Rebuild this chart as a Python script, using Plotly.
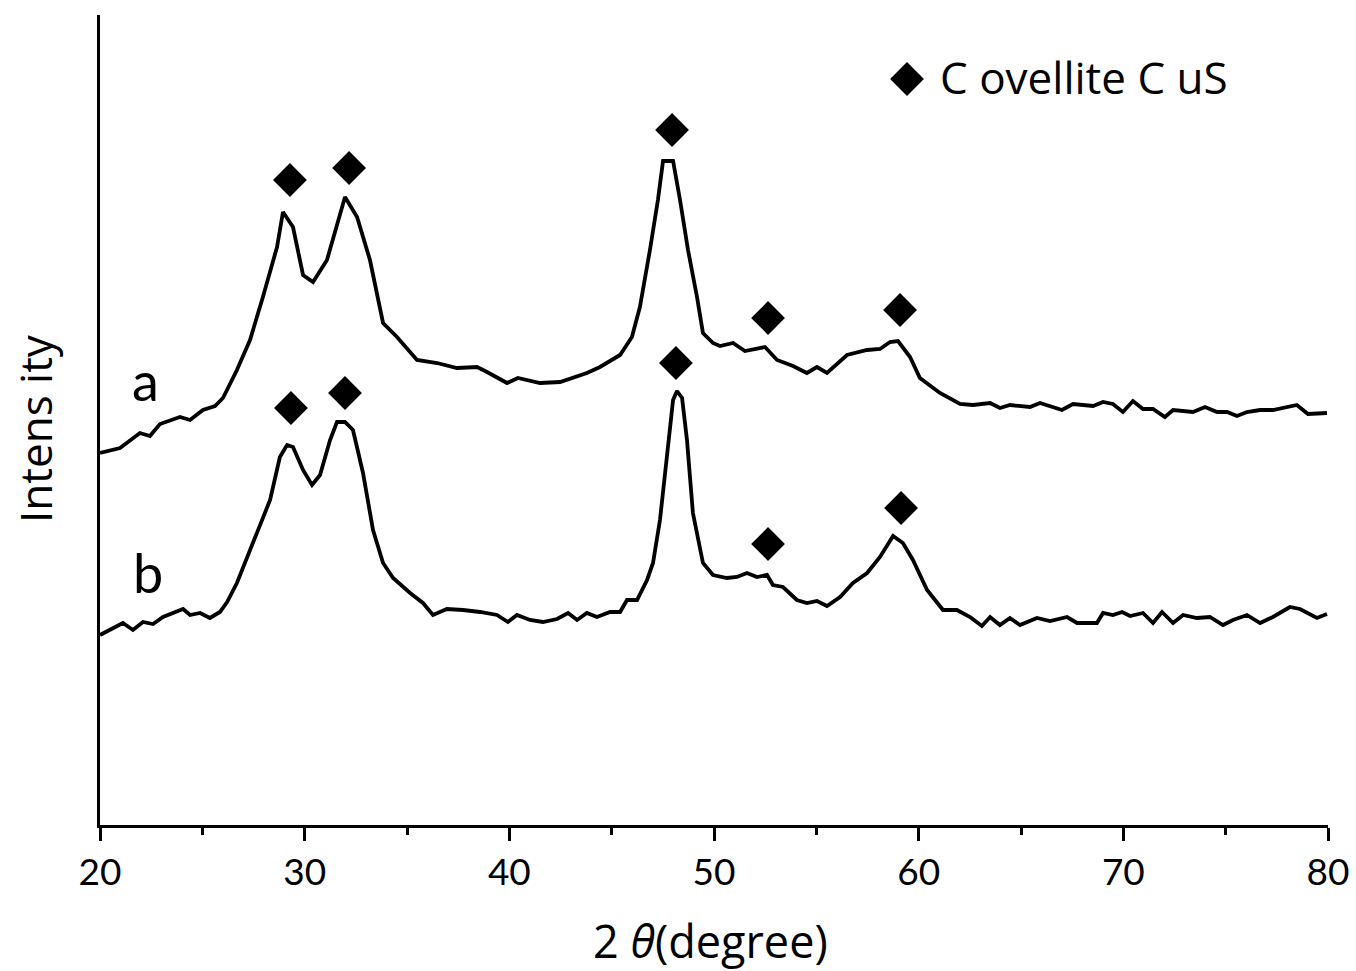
import plotly.graph_objects as go

# Curve a (upper trace): 2theta (deg) and intensity (a.u.)
theta_a = [20.00, 20.98, 21.95, 22.44, 22.93, 23.91, 24.40, 25.03, 25.62, 26.01, 26.69, 27.33, 27.96, 28.65, 28.94,
           29.43, 29.92, 30.41, 31.09, 31.58, 31.97, 32.56, 33.19, 33.83, 34.51, 35.49, 36.47, 37.44, 38.42, 38.91,
           39.89, 40.42, 41.50, 42.48, 43.79, 44.43, 45.41, 45.99, 46.38, 46.87, 47.26, 47.51, 48.00, 48.34, 48.73,
           49.17, 49.46, 49.95, 50.29, 50.93, 51.51, 52.49, 53.08, 53.86, 54.54, 55.03, 55.52, 56.50, 57.48, 58.11,
           58.60, 58.99, 59.58, 60.06, 61.04, 62.02, 62.65, 63.49, 63.97, 64.46, 65.44, 65.93, 67.00, 67.54, 68.52,
           69.01, 69.49, 69.98, 70.47, 70.96, 71.45, 72.03, 72.43, 73.40, 73.99, 74.58, 75.07, 75.55, 76.04, 76.68,
           77.31, 78.48, 79.02, 79.95]
int_a = [372, 377, 392, 389, 401, 408, 405, 415, 419, 427, 455, 485, 528, 578, 613,
         598, 550, 543, 565, 602, 628, 608, 565, 502, 488, 465, 462, 457, 458, 453,
         442, 447, 442, 443, 452, 458, 470, 488, 518, 575, 625, 664, 664, 625, 575,
         528, 492, 482, 479, 482, 474, 478, 465, 459, 452, 458, 452, 470, 475, 476,
         483, 484, 468, 447, 432, 421, 420, 422, 417, 420, 418, 422, 415, 421, 419,
         423, 421, 413, 424, 416, 416, 408, 415, 413, 418, 413, 413, 409, 413, 415,
         415, 420, 411, 412]

# Curve b (lower trace)
theta_b = [20.00, 20.49, 21.12, 21.61, 22.10, 22.59, 23.08, 24.06, 24.40, 24.89, 25.37, 25.86, 26.21, 26.69, 27.48,
           28.31, 28.79, 29.14, 29.43, 29.92, 30.36, 30.75, 31.24, 31.58, 31.97, 32.36, 32.85, 33.34, 33.83, 34.32,
           35.15, 35.78, 36.27, 36.95, 37.74, 38.57, 39.40, 39.93, 40.37, 41.01, 41.64, 42.33, 42.87, 43.31, 43.79,
           44.28, 44.92, 45.41, 45.75, 46.24, 46.73, 47.02, 47.36, 47.70, 48.00, 48.19, 48.44, 48.68, 48.97, 49.46,
           49.95, 50.64, 51.12, 51.61, 52.10, 52.59, 52.88, 53.37, 54.05, 54.54, 55.03, 55.52, 56.16, 56.79, 57.48,
           58.11, 58.75, 59.23, 59.72, 60.41, 61.19, 61.87, 62.51, 63.09, 63.49, 63.97, 64.46, 64.95, 65.78, 66.42,
           67.25, 67.74, 68.22, 68.71, 69.01, 69.49, 69.94, 70.33, 70.96, 71.45, 71.89, 72.43, 72.92, 73.60, 74.23,
           74.87, 75.36, 76.04, 76.68, 77.31, 78.14, 78.63, 79.46, 79.95]
int_b = [190, 195, 202, 195, 203, 201, 208, 216, 210, 212, 207, 213, 223, 242, 282,
         325, 368, 380, 378, 355, 340, 350, 385, 403, 403, 395, 352, 295, 262, 247,
         232, 222, 210, 216, 215, 213, 210, 203, 210, 205, 203, 206, 212, 205, 212,
         208, 213, 213, 225, 225, 245, 262, 305, 370, 425, 434, 427, 385, 312, 262,
         250, 247, 248, 252, 248, 250, 240, 238, 225, 222, 224, 219, 228, 242, 252,
         268, 289, 282, 265, 235, 215, 215, 208, 199, 208, 200, 207, 200, 207, 204,
         208, 202, 202, 202, 212, 210, 213, 209, 212, 202, 213, 202, 210, 207, 208,
         200, 205, 210, 202, 208, 218, 216, 207, 211]

# Covellite CuS reflection markers
mark_a_x = [29.28, 32.17, 47.95, 52.64, 59.09]
mark_a_y = [645, 657, 695, 507, 515]
mark_b_x = [29.33, 31.97, 48.14, 52.64, 59.14]
mark_b_y = [417, 432, 462, 281, 317]
legend_x = [59.43]
legend_y = [746]

x_ticks = [20, 30, 40, 50, 60, 70, 80]

fig = go.Figure()
line = dict(color="black", width=3.8)
fig.add_trace(go.Scatter(x=theta_a, y=int_a, mode="lines", line=line, showlegend=False))
fig.add_trace(go.Scatter(x=theta_b, y=int_b, mode="lines", line=line, showlegend=False))
mk = dict(symbol="diamond", size=26, color="black")
fig.add_trace(go.Scatter(x=mark_a_x + mark_b_x + legend_x, y=mark_a_y + mark_b_y + legend_y,
                         mode="markers", marker=mk, showlegend=False, cliponaxis=False))

font = "Lato, Open Sans, sans-serif"
font2 = "Open Sans, sans-serif"
fig.add_annotation(x=60.95, y=748, text="C ovellite C uS", showarrow=False, xanchor="left", yanchor="middle",
                   font=dict(family=font2, size=44, color="black"))
fig.add_annotation(x=22.2, y=445, text="a", showarrow=False, font=dict(family=font, size=54, color="black"))
fig.add_annotation(x=22.35, y=253, text="b", showarrow=False, font=dict(family=font, size=54, color="black"))
fig.add_annotation(xref="paper", yref="paper", x=0.497, y=-0.142, text="2 <i>θ</i>(degree)", showarrow=False,
                   xanchor="center", yanchor="middle", font=dict(family=font2, size=45, color="black"))
fig.add_annotation(xref="paper", yref="paper", x=-0.053, y=0.49, text="Intens ity", textangle=-90,
                   showarrow=False, xanchor="center", yanchor="middle",
                   font=dict(family=font2, size=44, color="black"))

fig.update_layout(
    width=1356, height=971,
    margin=dict(l=100, r=28, t=15, b=146, autoexpand=False),
    paper_bgcolor="white", plot_bgcolor="white",
    xaxis=dict(range=[20, 80], tickvals=x_ticks, ticks="outside", ticklen=13, tickwidth=2.5,
               tickcolor="black", showline=True, linecolor="black", linewidth=2.5, showgrid=False,
               zeroline=False, automargin=False, tickfont=dict(family=font, size=37, color="black"),
               minor=dict(dtick=5, tick0=20, ticks="outside", ticklen=7, tickwidth=2.5, tickcolor="black")),
    yaxis=dict(range=[0, 810], showticklabels=False, ticks="", showline=True, linecolor="black",
               linewidth=2.5, showgrid=False, zeroline=False),
)
fig.write_html("out.html")
